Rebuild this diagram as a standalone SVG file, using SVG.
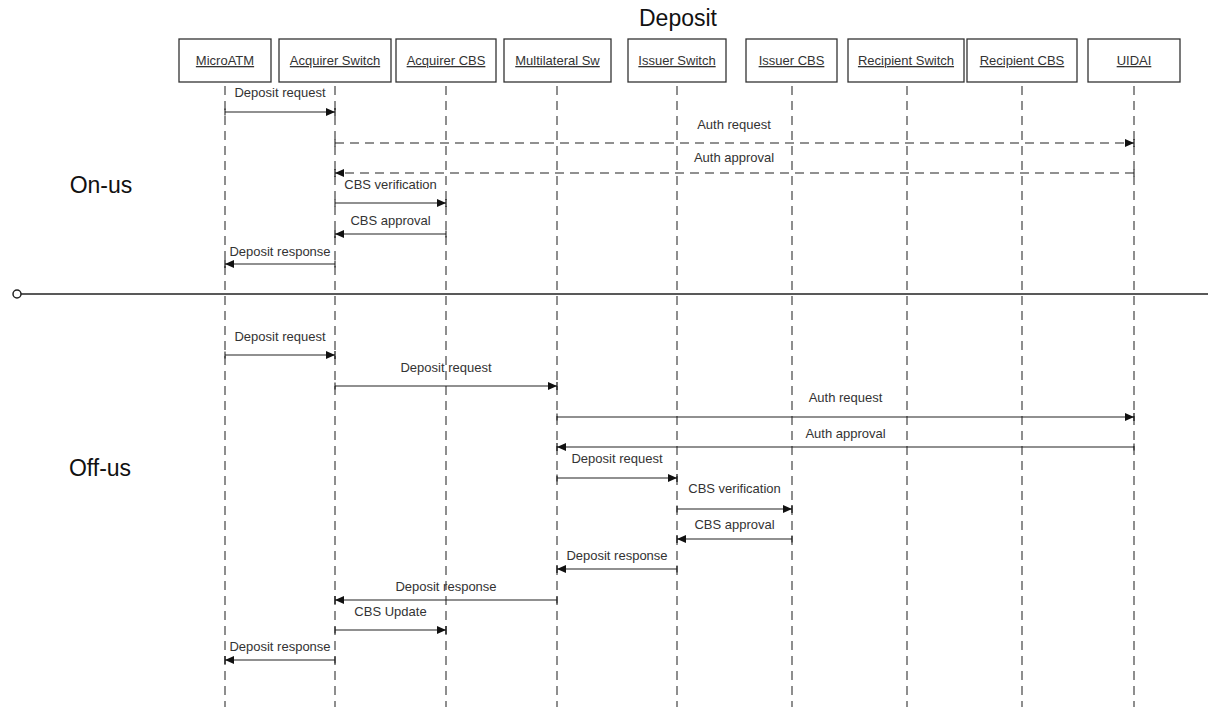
<svg xmlns="http://www.w3.org/2000/svg" width="1208" height="707" viewBox="0 0 1208 707">
<style>
.bg{fill:#ffffff}
.box{fill:#ffffff;stroke:#333333;stroke-width:1.3}
.name{font-family:"Liberation Sans",Arial,sans-serif;font-size:13px;fill:#333333;text-anchor:middle;text-decoration:underline}
.life{stroke:#444444;stroke-width:1.2;stroke-dasharray:9 6;fill:none}
.msg{stroke:#222222;stroke-width:1.1;fill:none;marker-end:url(#head);marker-start:url(#tick)}
.dash{stroke-dasharray:9 6}
.lbl{font-family:"Liberation Sans",Arial,sans-serif;font-size:13px;fill:#333333;text-anchor:middle}
.big{font-family:"Liberation Sans",Arial,sans-serif;font-size:23px;fill:#111111;text-anchor:middle}
.sep{stroke:#222222;stroke-width:1.6;fill:none}
</style>
<defs>
<marker id="head" markerUnits="userSpaceOnUse" markerWidth="12" markerHeight="12" refX="10" refY="6" orient="auto" viewBox="0 0 12 12">
<path d="M1,2 L10,6 L1,10 Z" fill="#111111"/>
<line x1="10" y1="2" x2="10" y2="10" stroke="#111111" stroke-width="1.2"/>
</marker>
<marker id="tick" markerUnits="userSpaceOnUse" markerWidth="6" markerHeight="10" refX="3" refY="5" orient="auto" viewBox="0 0 6 10">
<line x1="3" y1="1.5" x2="3" y2="8.5" stroke="#222222" stroke-width="1.1"/>
</marker>
</defs>
<rect class="bg" x="0" y="0" width="1208" height="707"/>
<text class="big" x="678" y="26">Deposit</text>
<text class="big" x="101" y="193">On-us</text>
<text class="big" x="100" y="476">Off-us</text>

<g id="lifelines">
<line class="life" x1="225" y1="86" x2="225" y2="707"/>
<line class="life" x1="335" y1="86" x2="335" y2="707"/>
<line class="life" x1="446" y1="86" x2="446" y2="707"/>
<line class="life" x1="557" y1="86" x2="557" y2="707"/>
<line class="life" x1="677" y1="86" x2="677" y2="707"/>
<line class="life" x1="792" y1="86" x2="792" y2="707"/>
<line class="life" x1="907" y1="86" x2="907" y2="707"/>
<line class="life" x1="1022" y1="86" x2="1022" y2="707"/>
<line class="life" x1="1134" y1="86" x2="1134" y2="707"/>
</g>

<g id="n-microatm"><rect class="box" x="179" y="39" width="92" height="43"/><text class="name" x="225" y="65">MicroATM</text></g>
<g id="n-acqswitch"><rect class="box" x="279" y="39" width="112" height="43"/><text class="name" x="335" y="65">Acquirer Switch</text></g>
<g id="n-acqcbs"><rect class="box" x="396" y="39" width="100" height="43"/><text class="name" x="446" y="65">Acquirer CBS</text></g>
<g id="n-multisw"><rect class="box" x="504" y="39" width="107" height="43"/><text class="name" x="557.5" y="65">Multilateral Sw</text></g>
<g id="n-issswitch"><rect class="box" x="628" y="39" width="98" height="43"/><text class="name" x="677" y="65">Issuer Switch</text></g>
<g id="n-isscbs"><rect class="box" x="746" y="39" width="91" height="43"/><text class="name" x="791.5" y="65">Issuer CBS</text></g>
<g id="n-recswitch"><rect class="box" x="848" y="39" width="116" height="43"/><text class="name" x="906" y="65">Recipient Switch</text></g>
<g id="n-reccbs"><rect class="box" x="967" y="39" width="110" height="43"/><text class="name" x="1022" y="65">Recipient CBS</text></g>
<g id="n-uidai"><rect class="box" x="1088" y="39" width="92" height="43"/><text class="name" x="1134" y="65">UIDAI</text></g>

<g id="separator">
<line class="sep" x1="21" y1="294" x2="1208" y2="294"/>
<circle cx="17" cy="294" r="4" fill="#ffffff" stroke="#222222" stroke-width="1.5"/>
</g>

<g id="connectors">
<line class="msg" x1="225" y1="112" x2="335" y2="112"/>
<line class="msg dash" x1="335" y1="143" x2="1134" y2="143"/>
<line class="msg dash" x1="1134" y1="173" x2="335" y2="173"/>
<line class="msg" x1="335" y1="203" x2="446" y2="203"/>
<line class="msg" x1="446" y1="234" x2="335" y2="234"/>
<line class="msg" x1="335" y1="264" x2="225" y2="264"/>

<line class="msg" x1="225" y1="355" x2="335" y2="355"/>
<line class="msg" x1="335" y1="386" x2="557" y2="386"/>
<line class="msg" x1="557" y1="417" x2="1134" y2="417"/>
<line class="msg" x1="1134" y1="447" x2="557" y2="447"/>
<line class="msg" x1="557" y1="478" x2="677" y2="478"/>
<line class="msg" x1="677" y1="509" x2="792" y2="509"/>
<line class="msg" x1="792" y1="539" x2="677" y2="539"/>
<line class="msg" x1="677" y1="569" x2="557" y2="569"/>
<line class="msg" x1="557" y1="600" x2="335" y2="600"/>
<line class="msg" x1="335" y1="630" x2="446" y2="630"/>
<line class="msg" x1="335" y1="660" x2="225" y2="660"/>
</g>

<g id="labels">
<text class="lbl" x="280" y="97">Deposit request</text>
<text class="lbl" x="734" y="129">Auth request</text>
<text class="lbl" x="734" y="162">Auth approval</text>
<text class="lbl" x="390.5" y="189">CBS verification</text>
<text class="lbl" x="390.5" y="225">CBS approval</text>
<text class="lbl" x="280" y="256">Deposit response</text>

<text class="lbl" x="280" y="341">Deposit request</text>
<text class="lbl" x="446" y="372">Deposit request</text>
<text class="lbl" x="845.5" y="402">Auth request</text>
<text class="lbl" x="845.5" y="438">Auth approval</text>
<text class="lbl" x="617" y="463">Deposit request</text>
<text class="lbl" x="734.5" y="493">CBS verification</text>
<text class="lbl" x="734.5" y="529">CBS approval</text>
<text class="lbl" x="617" y="560">Deposit response</text>
<text class="lbl" x="446" y="591">Deposit response</text>
<text class="lbl" x="390.5" y="616">CBS Update</text>
<text class="lbl" x="280" y="651">Deposit response</text>
</g>
</svg>
